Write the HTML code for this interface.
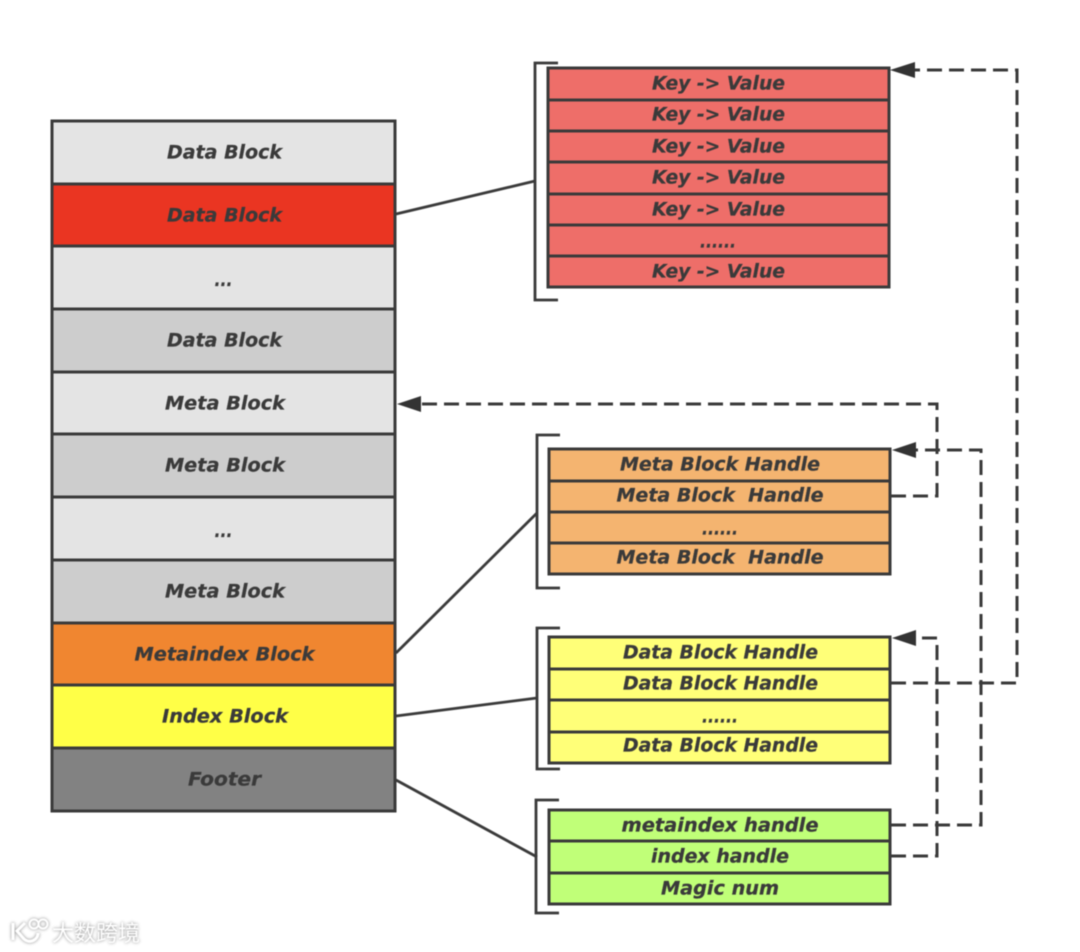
<!DOCTYPE html>
<html><head><meta charset="utf-8">
<style>
html,body{margin:0;padding:0;background:#fff;width:1080px;height:952px;overflow:hidden}
svg{display:block;filter:blur(0.5px)}
text{font-family:"DejaVu Sans","Liberation Sans",sans-serif;font-weight:bold;font-style:italic;font-size:18.5px;fill:#3a3a3a;stroke:#3a3a3a;stroke-width:0.25;text-anchor:middle}
.b{stroke:#3a3a3a;stroke-width:3}
.l{stroke:#3a3a3a;stroke-width:2.8;fill:none}
.d{stroke:#3a3a3a;stroke-width:3;fill:none;stroke-dasharray:15 7}
.a{fill:#333}
</style></head><body>
<svg width="1080" height="952" viewBox="0 0 1080 952" xmlns="http://www.w3.org/2000/svg">
<rect width="1080" height="952" fill="#fff"/>
<!-- left column -->
<g class="b">
<rect x="52" y="121" width="343" height="63" fill="#e4e4e4"/>
<rect x="52" y="184" width="343" height="62" fill="#ea3522"/>
<rect x="52" y="246" width="343" height="63" fill="#e4e4e4"/>
<rect x="52" y="309" width="343" height="63" fill="#cdcdcd"/>
<rect x="52" y="372" width="343" height="62" fill="#e4e4e4"/>
<rect x="52" y="434" width="343" height="63" fill="#cdcdcd"/>
<rect x="52" y="497" width="343" height="63" fill="#e4e4e4"/>
<rect x="52" y="560" width="343" height="63" fill="#cdcdcd"/>
<rect x="52" y="623" width="343" height="62" fill="#f08630"/>
<rect x="52" y="685" width="343" height="63" fill="#ffff47"/>
<rect x="52" y="748" width="343" height="63" fill="#828282"/>
</g>
<g>
<text x="224.500" y="158.500" textLength="115" lengthAdjust="spacingAndGlyphs">Data Block</text>
<text x="224.500" y="221.500" textLength="115" lengthAdjust="spacingAndGlyphs">Data Block</text>
<text x="223.500" y="286" textLength="18" lengthAdjust="spacingAndGlyphs">...</text>
<text x="224.500" y="346.500" textLength="115" lengthAdjust="spacingAndGlyphs">Data Block</text>
<text x="225" y="409.500" textLength="120" lengthAdjust="spacingAndGlyphs">Meta Block</text>
<text x="225" y="471.500" textLength="120" lengthAdjust="spacingAndGlyphs">Meta Block</text>
<text x="223.500" y="537" textLength="18" lengthAdjust="spacingAndGlyphs">...</text>
<text x="225" y="597.500" textLength="120" lengthAdjust="spacingAndGlyphs">Meta Block</text>
<text x="224.500" y="660.500" textLength="180" lengthAdjust="spacingAndGlyphs">Metaindex Block</text>
<text x="225" y="722.500" textLength="126" lengthAdjust="spacingAndGlyphs">Index Block</text>
<text x="224.500" y="785.500" textLength="73" lengthAdjust="spacingAndGlyphs">Footer</text>
</g>
<!-- red group -->
<g class="b" fill="#ee6e69">
<rect x="548" y="68" width="341" height="32"/>
<rect x="548" y="100" width="341" height="31"/>
<rect x="548" y="131" width="341" height="31"/>
<rect x="548" y="162" width="341" height="32"/>
<rect x="548" y="194" width="341" height="31"/>
<rect x="548" y="225" width="341" height="31"/>
<rect x="548" y="256" width="341" height="31"/>
</g>
<g>
<text x="718.500" y="89.500" textLength="133" lengthAdjust="spacingAndGlyphs">Key -&gt; Value</text>
<text x="718.500" y="120.500" textLength="133" lengthAdjust="spacingAndGlyphs">Key -&gt; Value</text>
<text x="718.500" y="152.500" textLength="133" lengthAdjust="spacingAndGlyphs">Key -&gt; Value</text>
<text x="718.500" y="183.500" textLength="133" lengthAdjust="spacingAndGlyphs">Key -&gt; Value</text>
<text x="718.500" y="215.500" textLength="133" lengthAdjust="spacingAndGlyphs">Key -&gt; Value</text>
<text x="718" y="247.500" textLength="36" lengthAdjust="spacingAndGlyphs">......</text>
<text x="718.500" y="277.500" textLength="133" lengthAdjust="spacingAndGlyphs">Key -&gt; Value</text>
</g>
<!-- orange group -->
<g class="b" fill="#f4b470">
<rect x="549" y="449" width="341" height="32"/>
<rect x="549" y="481" width="341" height="31"/>
<rect x="549" y="512" width="341" height="31"/>
<rect x="549" y="543" width="341" height="31"/>
</g>
<g>
<text x="720" y="470.500" textLength="200" lengthAdjust="spacingAndGlyphs">Meta Block Handle</text>
<text x="720" y="501.500" textLength="207" lengthAdjust="spacingAndGlyphs" xml:space="preserve">Meta Block  Handle</text>
<text x="720" y="534.500" textLength="36" lengthAdjust="spacingAndGlyphs">......</text>
<text x="720" y="563.500" textLength="207" lengthAdjust="spacingAndGlyphs" xml:space="preserve">Meta Block  Handle</text>
</g>
<!-- yellow group -->
<g class="b" fill="#ffff78">
<rect x="549" y="637" width="341" height="32"/>
<rect x="549" y="669" width="341" height="31"/>
<rect x="549" y="700" width="341" height="32"/>
<rect x="549" y="732" width="341" height="31"/>
</g>
<g>
<text x="720.500" y="658.500" textLength="195" lengthAdjust="spacingAndGlyphs">Data Block Handle</text>
<text x="720.500" y="689.500" textLength="195" lengthAdjust="spacingAndGlyphs">Data Block Handle</text>
<text x="720" y="722.500" textLength="36" lengthAdjust="spacingAndGlyphs">......</text>
<text x="720.500" y="751.500" textLength="195" lengthAdjust="spacingAndGlyphs">Data Block Handle</text>
</g>
<!-- green group -->
<g class="b" fill="#c0ff78">
<rect x="549" y="810" width="341" height="31"/>
<rect x="549" y="841" width="341" height="32"/>
<rect x="549" y="873" width="341" height="31"/>
</g>
<g>
<text x="720" y="831.500" textLength="197" lengthAdjust="spacingAndGlyphs">metaindex handle</text>
<text x="720" y="862.500" textLength="138" lengthAdjust="spacingAndGlyphs">index handle</text>
<text x="720" y="894.500" textLength="118" lengthAdjust="spacingAndGlyphs">Magic num</text>
</g>
<!-- brackets -->
<path class="l" d="M558 63H535V300H558"/>
<path class="l" d="M560 435H537V588H560"/>
<path class="l" d="M560 628H537V769H560"/>
<path class="l" d="M559 800H536V913H559"/>
<!-- connectors -->
<path class="l" d="M396 214L535 181"/>
<path class="l" d="M396 653L537 513"/>
<path class="l" d="M396 716L537 698"/>
<path class="l" d="M396 780L537 857"/>
<!-- dashed -->
<path class="d" d="M891 683H1017V70H914"/>
<path class="d" d="M891 496H937V404H421"/>
<path class="d" d="M891 825H981V450H916"/>
<path class="d" d="M891 856H937V638H916"/>
<!-- arrowheads -->
<polygon class="a" points="890,70 915,62 915,78"/>
<polygon class="a" points="397,404 421,396 421,412"/>
<polygon class="a" points="892,450 916,442 916,458"/>
<polygon class="a" points="892,638 916,630 916,646"/>
<!-- watermark -->
<g style="filter:drop-shadow(0 0 1.5px #888)">
<path d="M13 923V940M25 923L17 931L24 939C30 944 38 940 38 933" fill="none" stroke="#fff" stroke-width="3"/>
<circle cx="34" cy="924" r="4.500" fill="none" stroke="#fff" stroke-width="2"/>
<circle cx="43" cy="924" r="4.500" fill="none" stroke="#fff" stroke-width="2"/>
<text x="96" y="941" style="font-family:'Noto Sans CJK SC',sans-serif;font-style:normal;font-size:22px;fill:#fff;stroke:none;font-weight:normal">大数跨境</text>
</g>
</svg>
</body></html>
